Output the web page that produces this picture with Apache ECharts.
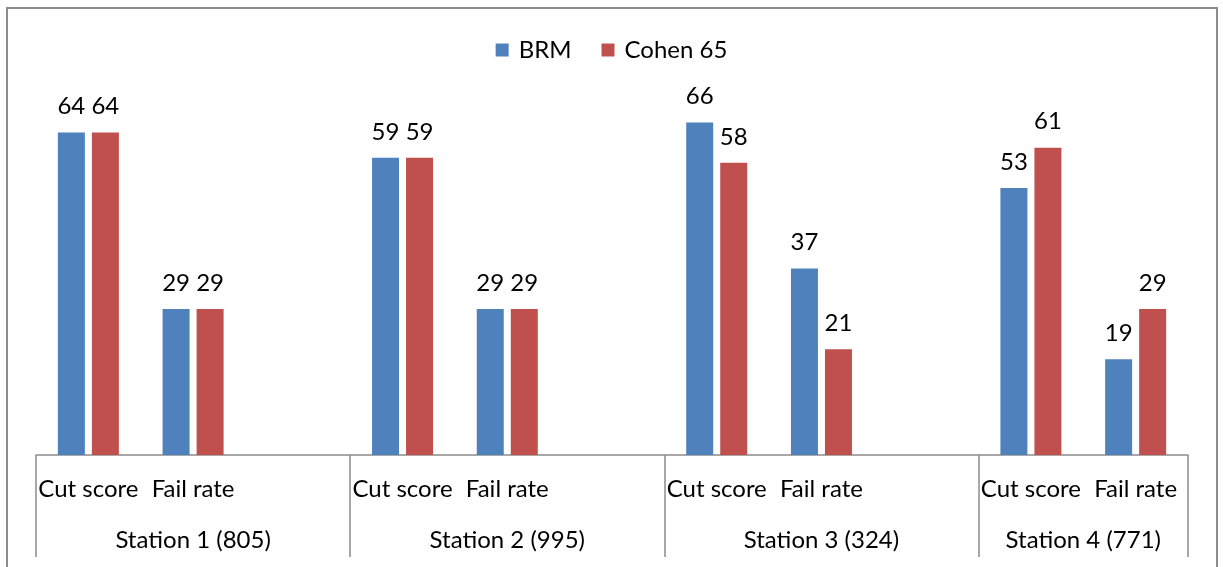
<!DOCTYPE html>
<html><head><meta charset="utf-8">
<script src="https://cdn.jsdelivr.net/npm/echarts@6/dist/echarts.min.js"></script>
<style>html,body{margin:0;padding:0;background:#fff}#c{width:1223px;height:567px}</style>
</head><body><div id="c"></div>
<script>
const categories = ['Cut score','Fail rate','','Cut score','Fail rate','','Cut score','Fail rate','','Cut score','Fail rate'];
const stations = ['Station 1 (805)','Station 2 (995)','Station 3 (324)','Station 4 (771)'];
const stationBounds = [0,3,6,9,11];
const brm =   [64,29,null,59,29,null,66,37,null,53,19];
const cohen = [64,29,null,59,29,null,58,21,null,61,29];

const FONT = 'Lato';
const stationCenters = stations.map((s,i)=>(stationBounds[i]+stationBounds[i+1])/2);
const chart = echarts.init(document.getElementById('c'), null, {renderer:'canvas'});
const labelStyle = {show:true, position:'top', distance:14, color:'#000', fontFamily:FONT, fontSize:24};
chart.setOption({
  animation:false,
  textStyle:{fontFamily:FONT},
  graphic:[{type:'rect', shape:{x:7,y:8,width:1210,height:600}, style:{fill:'none', stroke:'#8c8c8c', lineWidth:2}, z:-1}],
  legend:{top:33, left:'center', itemWidth:13, itemHeight:13, itemGap:30, icon:'rect',
    textStyle:{fontFamily:FONT, fontSize:24, color:'#000', padding:[0,0,0,5]}, data:['BRM','Cohen 65']},
  grid:{left:36, right:35, top:52, bottom:112},
  xAxis:[{
    type:'category', data:categories, position:'bottom',
    axisLine:{lineStyle:{color:'#8c8c8c', width:1.5}},
    axisTick:{show:false},
    axisLabel:{interval:0, color:'#000', fontFamily:FONT, fontSize:24, margin:22}
  },{
    type:'value', min:0, max:stationBounds[stationBounds.length-1], position:'bottom',
    axisLine:{show:false}, splitLine:{show:false},
    axisTick:{show:true, customValues:stationBounds, length:102, inside:false, lineStyle:{color:'#8c8c8c', width:1.5}},
    axisLabel:{customValues:stationCenters, color:'#000', fontFamily:FONT, fontSize:24, margin:73,
      formatter:(v)=>{const i=stationCenters.indexOf(v); return i>=0?stations[i]:'';}}
  }],
  yAxis:{type:'value', min:0, max:80, show:false, splitLine:{show:false}},
  series:[
    {name:'BRM', type:'bar', data:brm, barWidth:27, barGap:'26%', itemStyle:{color:'#4F81BD'}, label:labelStyle},
    {name:'Cohen 65', type:'bar', data:cohen, barWidth:27, barGap:'26%', itemStyle:{color:'#C0504D'}, label:labelStyle}
  ]
});
</script></body></html>
